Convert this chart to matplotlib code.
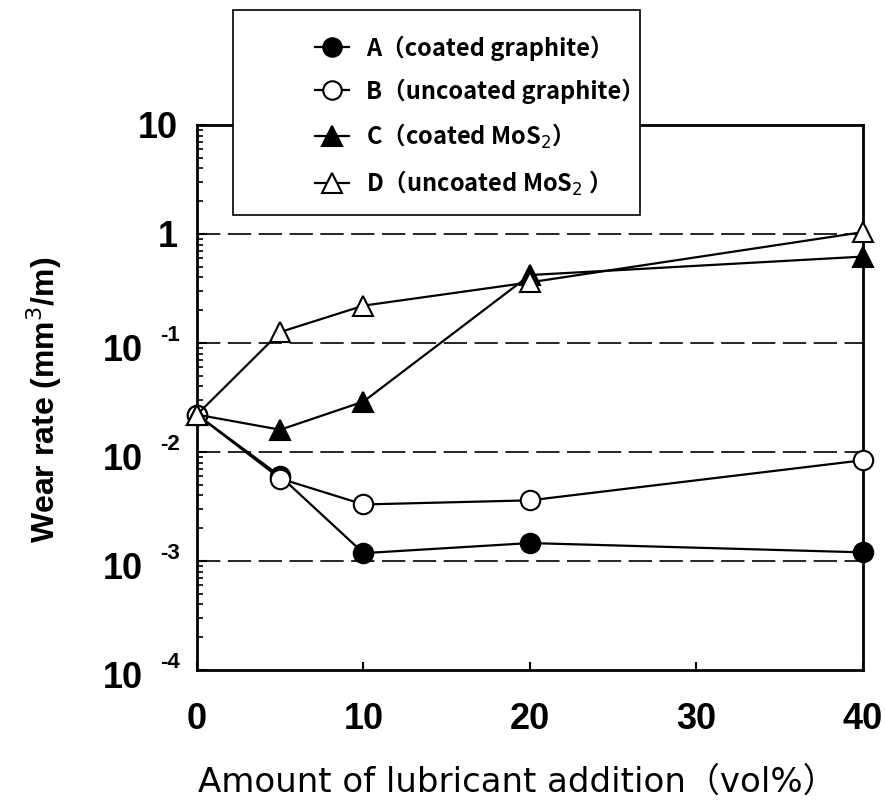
import numpy as np
import matplotlib
matplotlib.use("Agg")
import matplotlib.pyplot as plt
from matplotlib.patches import Rectangle
from matplotlib.ticker import FixedLocator, LogLocator, NullFormatter

# lubricant content (vol%)
x = [0, 5, 10, 20, 40]

# wear rate (mm3/m)
wear_a = [0.022, 0.0060, 0.00118, 0.00146, 0.00120]
wear_b = [0.022, 0.0057, 0.0033, 0.0036, 0.0084]
wear_c = [0.022, 0.016, 0.029, 0.42, 0.62]
wear_d = [0.022, 0.126, 0.22, 0.36, 1.04]

labels = ["A（coated graphite）", "B（uncoated graphite）",
          "C（coated MoS$_2$）", "D（uncoated MoS$_2$ ）"]

ytick_vals = [1e-4, 1e-3, 1e-2, 1e-1, 1, 10]
ytick_base = ["10", "10", "10", "10", "1", "10"]
ytick_exp = ["-4", "-3", "-2", "-1", "", ""]
xtick_vals = [0, 10, 20, 30, 40]

tick_font = ["Liberation Sans", "DejaVu Sans"]
jp_font = ["Noto Sans CJK JP", "DejaVu Sans"]
xl_font = ["DejaVu Sans", "Noto Sans CJK JP"]

fig = plt.figure(figsize=(8.85, 8.02), dpi=100)
ax = fig.add_axes([0.2226, 0.1646, 0.7525, 0.6796])

styles = [
    dict(marker="o", mfc="black", ms=14),
    dict(marker="o", mfc="white", ms=14),
    dict(marker="^", mfc="black", ms=15),
    dict(marker="^", mfc="white", ms=15),
]
series = [wear_a, wear_b, wear_c, wear_d]
handles = []
for vals, st, lab in zip(series, styles, labels):
    h, = ax.plot(x, vals, color="black", lw=1.6, mec="black", mew=1.5,
                 label=lab, clip_on=False, zorder=3, **st)
    handles.append(h)

ax.set_yscale("log")
ax.set_ylim(1e-4, 10)
ax.set_xlim(0, 40)

# dashed grid at inner decades
for v in [1e-3, 1e-2, 1e-1, 1]:
    ax.axhline(v, color="black", lw=1.2, dashes=(14, 4.5), zorder=1)

ax.yaxis.set_major_locator(FixedLocator(ytick_vals))
ax.yaxis.set_major_formatter(NullFormatter())
ax.yaxis.set_minor_locator(LogLocator(base=10, subs=np.arange(2, 10)))
ax.yaxis.set_minor_formatter(NullFormatter())
ax.xaxis.set_major_locator(FixedLocator(xtick_vals))

ax.tick_params(axis="y", which="major", direction="in", length=7, width=1.5)
ax.tick_params(axis="y", which="minor", direction="in", length=4, width=1.2)
ax.tick_params(axis="x", which="major", direction="in", length=6, width=1.5, pad=23)
for lbl in ax.get_xticklabels():
    lbl.set_fontfamily(tick_font)
    lbl.set_fontsize(26)
    lbl.set_fontweight("bold")

# y tick labels as 10 with a raised exponent
for v, base, ex in zip(ytick_vals, ytick_base, ytick_exp):
    if ex:
        ax.annotate(base, xy=(0, v), xycoords=("axes fraction", "data"),
                    xytext=(-38.9, -13), textcoords="offset points",
                    ha="right", va="baseline", fontsize=26,
                    fontweight="bold", fontfamily=tick_font)
        ax.annotate(ex, xy=(0, v), xycoords=("axes fraction", "data"),
                    xytext=(-26.5, 1.5), textcoords="offset points",
                    ha="left", va="baseline", fontsize=16,
                    fontweight="bold", fontfamily=tick_font)
    else:
        ax.annotate(base, xy=(0, v), xycoords=("axes fraction", "data"),
                    xytext=(-13.7, -9.4), textcoords="offset points",
                    ha="right", va="baseline", fontsize=26,
                    fontweight="bold", fontfamily=tick_font)

for sp in ax.spines.values():
    sp.set_linewidth(2.0)

fig.text(44 / 885, 1 - 400 / 802, "Wear rate (mm$^3$/m)", rotation=90,
         ha="center", va="center", fontsize=23, fontweight="bold",
         fontfamily=tick_font)
fig.text(517 / 885, 1 - 782 / 802, "Amount of lubricant addition（vol%）",
         ha="center", va="center", fontsize=24.5, fontfamily=xl_font)

# legend box
box = Rectangle((233 / 885, 1 - 215 / 802), 407 / 885, 205 / 802,
                transform=fig.transFigure, facecolor="white",
                edgecolor="black", lw=1.2, zorder=4)
fig.patches.append(box)

leg = fig.legend(handles=handles, loc="center left",
                 bbox_to_anchor=(315 / 885, 1 - 116.5 / 802),
                 prop=dict(family=jp_font, size=17, weight="bold"),
                 markerscale=0.95, handlelength=1.45, handletextpad=0.7,
                 labelspacing=0.75, borderpad=0, borderaxespad=0,
                 frameon=False)
leg.set_zorder(5)

fig.savefig("out.png", dpi=100)
